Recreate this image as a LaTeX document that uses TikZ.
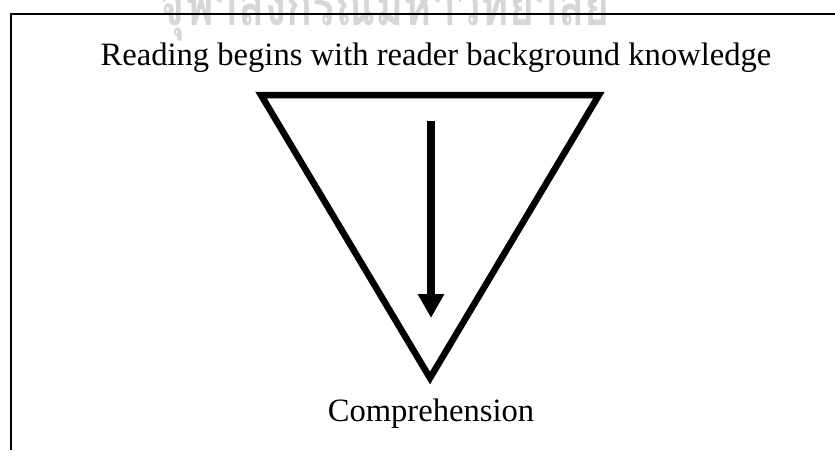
\documentclass[tikz,border=0pt]{standalone}
\usepackage{fontspec}
\setmainfont{Liberation Serif}
\newfontfamily\thaifont[Script=Thai]{Loma}
\usetikzlibrary{arrows.meta}
\tikzset{
  frameline/.style={line width=2pt, line cap=butt},
  funnel/.style={line width=6.5pt, line join=miter},
  flowarrow/.style={line width=8pt, -{Triangle[width=25pt,length=24pt]}},
  label/.style={font=\fontsize{32.6}{33}\selectfont, anchor=base, inner sep=0pt},
  watermark/.style={text=black!16, font=\thaifont\bfseries\fontsize{44}{44}\selectfont, anchor=base, inner sep=0pt, text depth=0pt}
}
\begin{document}
\begin{tikzpicture}[x=1pt,y=-1pt]
\useasboundingbox (0,0) rectangle (835,450);
\clip (0,0) rectangle (835,450);
\node[watermark] (wm) at (385,25) {\scalebox{0.98}[1.35]{จุฬาลงกรณ์มหาวิทยาลัย}};
\draw[frameline] (11,450) -- (11,14) -- (835,14);
\node[label] (title) at (436,65) {Reading begins with reader background knowledge};
\draw[funnel] (261,95) -- (599,95) -- (430,378) -- cycle;
\coordinate (astart) at (431,121);
\coordinate (aend) at (431,318);
\draw[flowarrow] (astart) -- (aend);
\node[label] (comp) at (431,421) {Comprehension};
\end{tikzpicture}
\end{document}
